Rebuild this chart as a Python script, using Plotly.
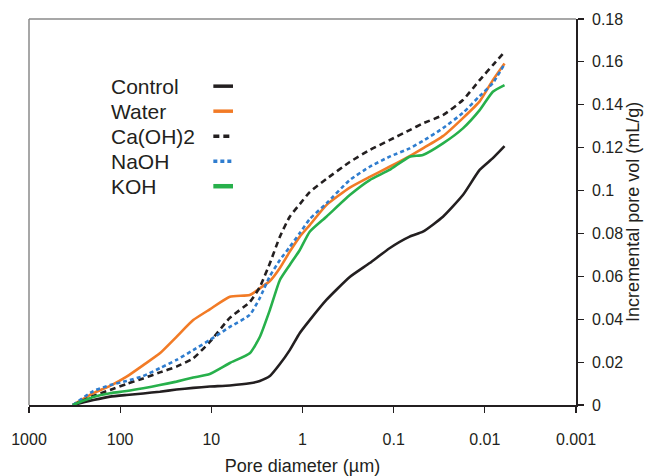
import plotly.graph_objects as go

# Pore diameter (µm) sampling points
pore_diameter_um = [330, 197, 129, 85, 55.8, 36.7, 24.1, 15.8, 10.4, 6.27, 3.79, 2.94,
                    2.28, 1.77, 1.38, 1.07, 0.833, 0.547, 0.303, 0.183, 0.111, 0.0668,
                    0.0478, 0.0288, 0.0174, 0.0114, 0.00817, 0.00608]

control = [0, 0.0023, 0.0039, 0.0047, 0.0054, 0.0062, 0.0072, 0.0080, 0.0086, 0.0091,
           0.0101, 0.0112, 0.0135, 0.0191, 0.0256, 0.0336, 0.0396, 0.0490, 0.0597,
           0.0662, 0.0731, 0.0785, 0.0808, 0.0878, 0.0979, 0.1096, 0.1151, 0.1207]
water = [0, 0.0055, 0.0089, 0.0132, 0.0186, 0.0241, 0.0318, 0.0396, 0.0446, 0.0505,
         0.0513, 0.0544, 0.0578, 0.0639, 0.0715, 0.0785, 0.0839, 0.0932, 0.1014,
         0.1064, 0.1111, 0.1161, 0.1197, 0.1254, 0.1338, 0.1416, 0.1515, 0.1593]
caoh2 = [0, 0.0042, 0.0070, 0.0098, 0.0124, 0.0152, 0.0179, 0.0218, 0.0294, 0.0406,
         0.0480, 0.0550, 0.0661, 0.0785, 0.0878, 0.0937, 0.0993, 0.1054, 0.1133,
         0.1189, 0.1235, 0.1282, 0.1313, 0.1352, 0.1422, 0.1515, 0.1585, 0.1646]
naoh = [0, 0.0065, 0.0093, 0.0112, 0.0135, 0.0172, 0.0210, 0.0256, 0.0303, 0.0364,
        0.0420, 0.0499, 0.0601, 0.0676, 0.0737, 0.0802, 0.0867, 0.0940, 0.1049,
        0.1111, 0.1158, 0.1197, 0.1231, 0.1291, 0.1362, 0.1441, 0.1501, 0.1590]
koh = [0, 0.0037, 0.0055, 0.0065, 0.0078, 0.0093, 0.0109, 0.0128, 0.0145, 0.0196,
       0.0241, 0.0317, 0.0443, 0.0583, 0.0653, 0.0723, 0.0808, 0.0878, 0.0979,
       0.1049, 0.1096, 0.1158, 0.1166, 0.1220, 0.1290, 0.1375, 0.1461, 0.1492]

series_names = ["Control", "Water", "Ca(OH)2", "NaOH", "KOH"]
series_values = [control, water, caoh2, naoh, koh]
series_colors = ["#231F20", "#F27B26", "#231F20", "#2F7DCF", "#27B04B"]
series_dash = ["solid", "solid", "6px,4px", "4px,3px", "solid"]

x_tick_vals = [1000, 100, 10, 1, 0.1, 0.01, 0.001]
x_tick_text = ["1000", "100", "10", "1", "0.1", "0.01", "0.001"]
y_tick_vals = [0, 0.02, 0.04, 0.06, 0.08, 0.1, 0.12, 0.14, 0.16, 0.18]
y_tick_text = ["0", "0.02", "0.04", "0.06", "0.08", "0.1", "0.12", "0.14", "0.16", "0.18"]

FONT = "Liberation Sans, Arial, sans-serif"
TXT = "#231F20"

fig = go.Figure()
for name, vals, col, dash in zip(series_names, series_values, series_colors, series_dash):
    fig.add_trace(go.Scatter(x=pore_diameter_um, y=vals, mode="lines", name=name,
                             line=dict(color=col, width=2.6, dash=dash,
                                       shape="spline", smoothing=0.5),
                             showlegend=False, hoverinfo="skip"))

# manual legend (text left, sample right)
leg_x_text = 0.146
leg_x0, leg_x1 = 0.337, 0.373
leg_y0 = 0.826
leg_dy = 0.0648
annotations = []
shapes = []
for i, (name, col, dash) in enumerate(zip(series_names, series_colors, series_dash)):
    yy = leg_y0 - i * leg_dy
    annotations.append(dict(x=leg_x_text, y=yy, xref="paper", yref="paper", text=name,
                            showarrow=False, xanchor="left", yanchor="middle",
                            font=dict(family=FONT, size=21, color=TXT)))
    shapes.append(dict(type="line", xref="paper", yref="paper", x0=leg_x0, x1=leg_x1,
                       y0=yy, y1=yy, line=dict(color=col, width=3.5 if i != 4 else 4.5,
                                               dash=dash)))

# y-axis title placed at the far right
annotations.append(dict(x=1.104, y=0.5, xref="paper", yref="paper",
                        text="Incremental pore vol (mL/g)", textangle=-90,
                        showarrow=False, xanchor="center", yanchor="middle",
                        font=dict(family=FONT, size=18, color=TXT)))

# grey plot-area border (top and left)
shapes.append(dict(type="line", xref="paper", yref="paper", x0=0, x1=1, y0=1, y1=1,
                   line=dict(color="#8A8A8A", width=1.5)))
shapes.append(dict(type="line", xref="paper", yref="paper", x0=0, x1=0, y0=0, y1=1,
                   line=dict(color="#8A8A8A", width=1.5)))

fig.update_layout(
    width=649, height=476,
    margin=dict(l=29, r=73, t=19, b=71),
    paper_bgcolor="white", plot_bgcolor="white",
    font=dict(family=FONT, color=TXT),
    annotations=annotations, shapes=shapes,
    showlegend=False,
)
fig.update_xaxes(type="log", range=[3, -3], tickvals=x_tick_vals, ticktext=x_tick_text,
                 ticks="outside", ticklen=6, tickwidth=1.2, tickcolor=TXT, automargin=False,
                 ticklabelstandoff=13,
                 showline=True, linecolor=TXT, linewidth=1.8, showgrid=False, zeroline=False,
                 tickfont=dict(size=16, family=FONT, color=TXT),
                 title=dict(text="Pore diameter (µm)", font=dict(size=18, family=FONT, color=TXT),
                            standoff=12))
fig.update_yaxes(side="right", range=[0, 0.18], tickvals=y_tick_vals, ticktext=y_tick_text,
                 ticks="outside", ticklen=6, tickwidth=1.2, tickcolor=TXT, automargin=False,
                 ticklabelstandoff=5,
                 showline=True, linecolor=TXT, linewidth=1.8, showgrid=False, zeroline=False,
                 tickfont=dict(size=16, family=FONT, color=TXT))

fig.write_html("out.html", config={"displayModeBar": False, "staticPlot": True},
               post_script="document.body.style.margin='0px';"
                           "document.body.style.overflow='hidden';")
